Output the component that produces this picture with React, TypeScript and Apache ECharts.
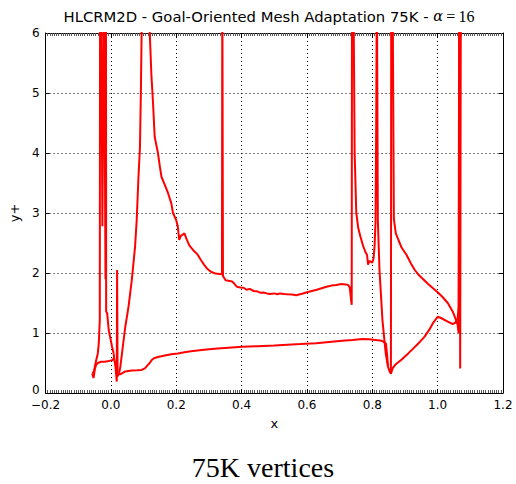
import React, { useEffect, useRef } from "react";
import * as echarts from "echarts";

// ---- data ----
const xRange = [-0.2, 1.2];
const yRange = [0, 6];

const slatLower = [
  [-0.057, 0.32], [-0.053, 0.25], [-0.049, 0.4], [-0.045, 0.47], [-0.04, 0.5],
  [-0.03, 0.52], [-0.02, 0.52], [-0.01, 0.53], [-0.002, 0.54], [0.006, 0.55], [0.0085, 0.58],
];

const slatUpper = [
  [-0.057, 0.32], [-0.052, 0.36], [-0.046, 0.52], [-0.04, 0.66], [-0.037, 0.83],
  [-0.034, 1.22], [-0.033, 7], [-0.03, 7], [-0.026, 2.78], [-0.021, 7], [-0.019, 7],
  [-0.0165, 1.9], [-0.015, 7], [-0.0145, 1.36], [-0.0115, 1.33], [-0.0066, 1.05],
  [0.0036, 0.77], [0.0085, 0.66],
];

const slatTrailing = [
  [0.0085, 0.66], [0.01, 0.58], [0.014, 0.44], [0.018, 0.19], [0.019, 2.05],
  [0.0205, 0.28], [0.025, 0.32],
];

const mainUpper = [
  [0.025, 0.32], [0.029, 0.44], [0.036, 0.75], [0.044, 1.1], [0.054, 1.44], [0.064, 1.88],
  [0.074, 2.44], [0.079, 2.88], [0.084, 3.55], [0.089, 4.1], [0.092, 5.1], [0.094, 6.0],
  [0.106, 14], [0.119, 6.0], [0.124, 5.3], [0.129, 4.83], [0.134, 4.27], [0.144, 4.0],
  [0.15, 3.77], [0.155, 3.6], [0.165, 3.47], [0.175, 3.33], [0.185, 3.16], [0.19, 3.0],
  [0.2, 2.88], [0.205, 2.77], [0.209, 2.55], [0.214, 2.62], [0.22, 2.64], [0.225, 2.66],
  [0.232, 2.56], [0.24, 2.46], [0.252, 2.38], [0.265, 2.31], [0.275, 2.22], [0.285, 2.14],
  [0.295, 2.07], [0.306, 2.02], [0.32, 1.99], [0.34, 1.98], [0.341, 7], [0.342, 7],
  [0.343, 1.95], [0.351, 1.88], [0.36, 1.87], [0.371, 1.86], [0.378, 1.82], [0.386, 1.77],
  [0.396, 1.76], [0.406, 1.755], [0.415, 1.72], [0.425, 1.735], [0.437, 1.7], [0.45, 1.69],
  [0.458, 1.67], [0.467, 1.675], [0.477, 1.66], [0.487, 1.65], [0.5, 1.66], [0.51, 1.645],
  [0.517, 1.66], [0.53, 1.65], [0.54, 1.645], [0.555, 1.64], [0.567, 1.63], [0.585, 1.655],
  [0.6, 1.68], [0.615, 1.7], [0.63, 1.72], [0.645, 1.745], [0.66, 1.77], [0.675, 1.79],
  [0.69, 1.8], [0.705, 1.815], [0.718, 1.81], [0.726, 1.8], [0.731, 1.76], [0.735, 1.55],
  [0.737, 1.47], [0.738, 7],
];

const mainTrailing = [
  [0.738, 7], [0.742, 7], [0.746, 4.0], [0.751, 3.0], [0.757, 2.75], [0.764, 2.6],
  [0.772, 2.45], [0.779, 2.35], [0.784, 2.3], [0.787, 2.14], [0.791, 2.2], [0.795, 2.19],
  [0.8, 2.17], [0.804, 2.25], [0.807, 2.45], [0.81, 2.88], [0.812, 4.5], [0.814, 7],
  [0.816, 7], [0.817, 2.88], [0.822, 2.05], [0.831, 1.22], [0.841, 0.66], [0.848, 0.44],
];

const mainLower = [
  [0.025, 0.32], [0.029, 0.31], [0.035, 0.33], [0.044, 0.36], [0.064, 0.375], [0.08, 0.38],
  [0.094, 0.385], [0.104, 0.41], [0.112, 0.46], [0.119, 0.5], [0.125, 0.55], [0.132, 0.58],
  [0.144, 0.6], [0.165, 0.625], [0.185, 0.645], [0.205, 0.66], [0.225, 0.68], [0.245, 0.695],
  [0.265, 0.71], [0.285, 0.72], [0.326, 0.74], [0.36, 0.755], [0.401, 0.77], [0.45, 0.78],
  [0.5, 0.79], [0.527, 0.8], [0.58, 0.815], [0.628, 0.83], [0.668, 0.85], [0.708, 0.87],
  [0.74, 0.885], [0.769, 0.9], [0.79, 0.895], [0.81, 0.885], [0.829, 0.87], [0.836, 0.85],
  [0.842, 0.82], [0.846, 0.6], [0.848, 0.44],
];

const flapUpper = [
  [0.848, 0.44], [0.853, 0.36], [0.857, 0.32], [0.858, 7], [0.862, 7], [0.866, 2.9],
  [0.872, 2.66], [0.88, 2.55], [0.89, 2.42], [0.905, 2.3], [0.92, 2.14], [0.93, 2.05],
  [0.94, 1.98], [0.955, 1.9], [0.97, 1.82], [0.985, 1.75], [1.0, 1.68], [1.015, 1.6],
  [1.031, 1.5], [1.046, 1.36], [1.056, 1.22], [1.061, 1.14], [1.064, 1.0], [1.066, 7],
  [1.068, 7], [1.069, 0.41], [1.071, 7],
];

const flapLower = [
  [0.857, 0.32], [0.862, 0.41], [0.87, 0.47], [0.89, 0.56], [0.91, 0.66], [0.925, 0.74],
  [0.94, 0.82], [0.96, 0.94], [0.975, 1.06], [0.985, 1.16], [1.0, 1.27], [1.01, 1.25],
  [1.031, 1.19], [1.046, 1.15], [1.054, 1.17], [1.061, 1.24], [1.065, 1.45], [1.067, 7],
];

const curves = [slatLower, slatUpper, slatTrailing, mainUpper, mainTrailing, mainLower, flapUpper, flapLower];

const titleText = "HLCRM2D - Goal-Oriented Mesh Adaptation 75K - ";
const captionText = "75K vertices";

export default function App() {
  const ref = useRef<HTMLDivElement>(null);
  useEffect(() => {
    if (!ref.current) return;
    const chart = echarts.init(ref.current, undefined, { renderer: "svg" });
    const sans = "DejaVu Sans";
    const fmtX = (v: number) => (v < 0 ? "\u2212" + Math.abs(v).toFixed(1) : v.toFixed(1));
    const fmtY = (v: number) => (v === 0 ? "{z|0}" : String(v));
    const commonX = {
      type: "value" as const,
      min: xRange[0],
      max: xRange[1],
      interval: 0.2,
    };
    const commonY = {
      type: "value" as const,
      min: yRange[0],
      max: yRange[1],
      interval: 1,
    };
    chart.setOption({
      animation: false,
      backgroundColor: "#ffffff",
      grid: { left: 39, right: 13, top: 33, bottom: 91, containLabel: false },
      graphic: [
        {
          type: "text",
          x: 269,
          y: 16,
          style: {
            text: titleText + "{a|\u03b1}{b|\u2009=\u200916}",
            font: `14.8px "${sans}"`,
            fill: "#000",
            align: "center",
            verticalAlign: "middle",
            rich: {
              a: { fontFamily: "DejaVu Serif", fontStyle: "italic", fontSize: 14.5, fill: "#000" },
              b: { fontFamily: "Liberation Serif", fontSize: 16, fill: "#000" },
            },
          },
        },
        {
          type: "text",
          x: 263,
          y: 467,
          style: {
            text: captionText,
            font: '28px "Liberation Serif"',
            fill: "#000",
            align: "center",
            verticalAlign: "middle",
          },
        },
      ],
      xAxis: [
        {
          ...commonX,
          position: "bottom",
          name: "x",
          nameLocation: "middle",
          nameGap: 24,
          nameTextStyle: { fontFamily: sans, fontSize: 13, color: "#000" },
          axisLine: { show: true, onZero: false, lineStyle: { color: "#000", width: 1 } },
          axisTick: { show: true, inside: true, length: 4, lineStyle: { color: "#000" } },
          minorTick: { show: true, splitNumber: 30, length: 3, lineStyle: { color: "#555", width: 1 } },
          axisLabel: { formatter: fmtX, fontFamily: sans, fontSize: 12, lineHeight: 10, color: "#000", margin: 7 },
          splitLine: { show: true, lineStyle: { color: "#000", width: 1, type: [1, 3] } },
        },
        {
          ...commonX,
          position: "top",
          axisLine: { show: true, onZero: false, lineStyle: { color: "#000", width: 1 } },
          axisTick: { show: true, inside: true, length: 4, lineStyle: { color: "#000" } },
          minorTick: { show: true, splitNumber: 30, length: 3, lineStyle: { color: "#555", width: 1 } },
          axisLabel: { show: false },
          splitLine: { show: false },
        },
      ],
      yAxis: [
        {
          ...commonY,
          position: "left",
          name: "y+",
          nameLocation: "middle",
          nameGap: 21,
          nameRotate: 90,
          nameTextStyle: { fontFamily: sans, fontSize: 13, color: "#000" },
          axisLine: { show: true, onZero: false, lineStyle: { color: "#000", width: 1 } },
          axisTick: { show: true, inside: true, length: 4, lineStyle: { color: "#000" } },
          axisLabel: {
            formatter: fmtY,
            fontFamily: sans,
            fontSize: 12,
            color: "#000",
            margin: 6,
            rich: { z: { fontFamily: sans, fontSize: 12, color: "#000", padding: [0, 0, 7, 0] } },
          },
          splitLine: { show: true, lineStyle: { color: "#000", width: 1, type: [1, 3] } },
        },
        {
          ...commonY,
          position: "right",
          axisLine: { show: true, onZero: false, lineStyle: { color: "#000", width: 1 } },
          axisTick: { show: true, inside: true, length: 4, lineStyle: { color: "#000" } },
          axisLabel: { show: false },
          splitLine: { show: false },
        },
      ],
      series: curves.map((d) => ({
        type: "line",
        data: d,
        xAxisIndex: 0,
        yAxisIndex: 0,
        showSymbol: false,
        symbol: "none",
        clip: true,
        z: 3,
        lineStyle: { color: "#ff0000", width: 2 },
        itemStyle: { color: "#ff0000" },
      })),
    });
    return () => chart.dispose();
  }, []);
  return (
    <div
      ref={ref}
      style={{ position: "absolute", left: 0, top: 0, width: 516, height: 484, background: "#fff" }}
    />
  );
}
